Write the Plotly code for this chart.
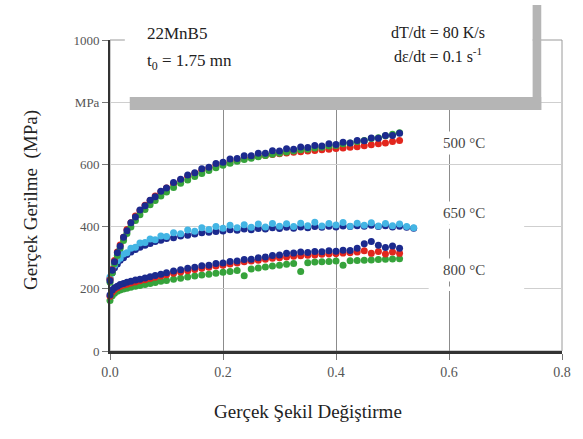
import plotly.graph_objects as go

# Strain values (shared by the curves of each temperature)
x_500 = [0, 0.004, 0.008, 0.013, 0.018, 0.024, 0.03, 0.037, 0.045, 0.053, 0.062, 0.071, 0.08, 0.09, 0.1,
         0.1125, 0.125, 0.1375, 0.15, 0.1625, 0.175, 0.1875, 0.2, 0.2125, 0.225, 0.2375, 0.25, 0.2625,
         0.275, 0.2875, 0.3, 0.3125, 0.325, 0.3375, 0.35, 0.3625, 0.375, 0.3875, 0.4, 0.4125, 0.425,
         0.4375, 0.45, 0.4625, 0.475, 0.4875, 0.5, 0.5125]
x_650 = [0, 0.004, 0.008, 0.013, 0.018, 0.024, 0.03, 0.037, 0.045, 0.053, 0.062, 0.071, 0.08, 0.09, 0.1,
         0.1125, 0.125, 0.1375, 0.15, 0.1625, 0.175, 0.1875, 0.2, 0.2125, 0.225, 0.2375, 0.25, 0.2625,
         0.275, 0.2875, 0.3, 0.3125, 0.325, 0.3375, 0.35, 0.3625, 0.375, 0.3875, 0.4, 0.4125, 0.425,
         0.4375, 0.45, 0.4625, 0.475, 0.4875, 0.5, 0.5125, 0.525, 0.5375]
x_800 = list(x_500)

# True stress (MPa) at 500 °C
red_500 = [229, 262, 291, 318, 341, 366, 391, 412, 434, 452, 469, 484, 498, 512, 524, 538, 550, 561, 571,
           580, 588, 596, 603, 609, 614, 619, 623, 626, 629, 632, 634, 637, 639, 641, 643, 645, 647, 649,
           651, 653, 655, 657, 660, 663, 666, 669, 674, 677]
green_500 = [221, 252, 281, 307, 330, 355, 378, 399, 420, 438, 455, 470, 484, 498, 511, 526, 539, 550, 561,
             571, 580, 589, 597, 604, 610, 616, 620, 625, 629, 633, 636, 640, 643, 647, 649, 653, 655, 659,
             661, 666, 669, 674, 677, 683, 686, 692, 697, 702]
blue_500 = [226, 260, 287, 316, 337, 366, 387, 412, 431, 453, 467, 485, 496, 514, 524, 542, 552, 566, 573,
            586, 591, 603, 607, 617, 619, 628, 628, 636, 636, 644, 643, 650, 649, 656, 654, 661, 659, 666,
            664, 671, 669, 677, 676, 685, 684, 693, 693, 700]

# True stress (MPa) at 650 °C
navy_650 = [232, 252, 268, 280, 292, 300, 310, 318, 326, 334, 340, 346, 352, 356, 362, 364, 370, 372, 376,
            380, 382, 384, 386, 390, 388, 392, 390, 394, 392, 396, 394, 398, 395, 399, 396, 400, 398, 401,
            399, 402, 400, 403, 401, 404, 400, 403, 399, 401, 398, 395]
cyan_650 = [238, 262, 276, 290, 298, 312, 316, 330, 334, 347, 349, 360, 358, 370, 368, 380, 377, 389, 385,
            396, 391, 400, 395, 404, 396, 406, 398, 408, 399, 410, 401, 409, 400, 411, 403, 414, 402, 410,
            405, 413, 401, 411, 404, 412, 402, 410, 403, 408, 400, 396]

# True stress (MPa) at 800 °C
green_800 = [162, 178, 186, 192, 196, 199, 202, 205, 208, 211, 214, 217, 220, 224, 227, 231, 234, 238, 241,
             244, 247, 250, 253, 256, 259, 242, 264, 267, 270, 273, 276, 279, 281, 256, 284, 286, 287, 288,
             289, 276, 290, 291, 292, 293, 294, 295, 296, 297]
red_800 = [176, 190, 198, 203, 208, 212, 215, 219, 222, 226, 229, 233, 237, 241, 245, 250, 254, 258, 262,
           266, 269, 273, 276, 280, 283, 287, 289, 292, 295, 298, 300, 302, 305, 306, 308, 309, 311, 312,
           313, 315, 316, 318, 322, 314, 320, 312, 318, 314]
blue_800 = [180, 196, 203, 208, 214, 217, 221, 224, 228, 231, 235, 239, 243, 247, 252, 257, 261, 266, 269,
            274, 276, 281, 283, 288, 289, 294, 295, 300, 302, 307, 309, 314, 315, 318, 317, 320, 319, 322,
            321, 324, 323, 330, 345, 352, 340, 333, 338, 330]

y_tickvals = [0, 200, 400, 600, 800, 1000]
y_ticktext = ["0", "200", "400", "600", "MPa", "1000"]
x_tickvals = [0.0, 0.2, 0.4, 0.6, 0.8]

RED = "#e2261d"
GREEN = "#36a33b"
NAVY = "#1c2a8e"
CYAN = "#43b5e4"
SERIF = "Liberation Serif"

series = [
    (x_800, green_800, GREEN), (x_800, red_800, RED), (x_800, blue_800, NAVY),
    (x_650, navy_650, NAVY), (x_650, cyan_650, CYAN),
    (x_500, red_500, RED), (x_500, green_500, GREEN), (x_500, blue_500, NAVY),
]

fig = go.Figure()
for xs, ys, col in series:
    fig.add_trace(go.Scatter(
        x=xs, y=ys, mode="markers", cliponaxis=False, showlegend=False,
        marker=dict(size=7, color=col, line=dict(width=0)),
    ))

fig.update_layout(
    width=583, height=439,
    margin=dict(l=110, r=15, t=40, b=88),
    paper_bgcolor="white", plot_bgcolor="white",
    font=dict(family=SERIF, color="#555555"),
    xaxis=dict(
        range=[0, 0.8], tickvals=x_tickvals, tickformat=".1f",
        showgrid=True, gridcolor="#8c8c8c", gridwidth=1.2,
        showline=True, linecolor="#333333", linewidth=3,
        ticks="outside", ticklen=6, tickcolor="#777777",
        tickfont=dict(size=14, color="#555555"), zeroline=False,
    ),
    yaxis=dict(
        range=[0, 1000], tickvals=y_tickvals, ticktext=y_ticktext,
        showgrid=True, gridcolor="#cfcfcf", gridwidth=1,
        showline=True, linecolor="#333333", linewidth=2,
        ticks="outside", ticklen=6, tickcolor="#777777",
        tickfont=dict(size=13, color="#555555"), zeroline=False,
    ),
)

shapes = [
    # thin outer frame on the right/top
    dict(type="rect", xref="paper", yref="paper", x0=0, x1=1, y0=0, y1=1,
         line=dict(color="#9a9a9a", width=1), layer="below"),
    # gaps in the horizontal grid beside the temperature labels
    dict(type="rect", xref="x", yref="y", x0=0.541, x1=0.733, y0=393, y1=407,
         fillcolor="white", line=dict(width=0), layer="between"),
    dict(type="rect", xref="x", yref="y", x0=0.564, x1=0.733, y0=193, y1=207,
         fillcolor="white", line=dict(width=0), layer="between"),
    # header box with its grey drop shadow
    dict(type="rect", xref="paper", yref="paper", x0=0.0437, x1=0.9541, y0=0.7749, y1=0.8167,
         fillcolor="#b5b5b5", line=dict(width=0), layer="above"),
    dict(type="rect", xref="paper", yref="paper", x0=0.9345, x1=0.9541, y0=0.7749, y1=1.1125,
         fillcolor="#b5b5b5", line=dict(width=0), layer="above"),
    dict(type="rect", xref="paper", yref="paper", x0=0.0328, x1=0.9345, y0=0.8167, y1=1.15,
         fillcolor="white", line=dict(width=0), layer="above"),
]
fig.update_layout(shapes=shapes)

BLACK = "#222222"
annotations = [
    dict(text="22MnB5", x=0.0764, y=1.0225, xanchor="left", yanchor="middle",
         font=dict(size=17, color=BLACK)),
    dict(text="t<sub>0</sub> = 1.75 mn", x=0.0764, y=0.929, xanchor="left", yanchor="middle",
         font=dict(size=17, color=BLACK)),
    dict(text="dT/dt = 80 K/s", x=0.725, y=1.0257, xanchor="center", yanchor="middle",
         font=dict(size=16, color=BLACK)),
    dict(text="dε/dt = 0.1 s<sup>-1</sup>", x=0.725, y=0.952, xanchor="center", yanchor="middle",
         font=dict(size=16, color=BLACK)),
    dict(text="500 °C", x=0.727, y=0.669, xanchor="left", yanchor="middle",
         font=dict(size=15, color="#444444"), bgcolor="white", borderpad=3),
    dict(text="650 °C", x=0.727, y=0.444, xanchor="left", yanchor="middle",
         font=dict(size=15, color="#444444"), bgcolor="white", borderpad=3),
    dict(text="800 °C", x=0.727, y=0.260, xanchor="left", yanchor="middle",
         font=dict(size=15, color="#444444"), bgcolor="white", borderpad=3),
    dict(text="Gerçek Şekil Değiştirme", x=0.437, y=-0.196, xanchor="center", yanchor="middle",
         font=dict(size=19, color=BLACK)),
    dict(text="Gerçek Gerilme  (MPa)", x=-0.1747, y=0.486, xanchor="center", yanchor="middle",
         textangle=-90, font=dict(size=19, color=BLACK)),
]
for a in annotations:
    a.update(xref="paper", yref="paper", showarrow=False)
fig.update_layout(annotations=annotations)

fig.write_html("out.html")
